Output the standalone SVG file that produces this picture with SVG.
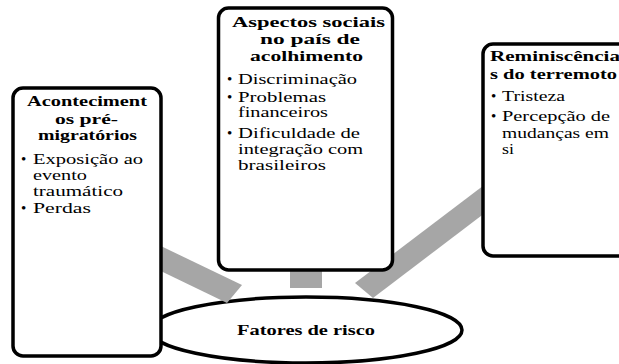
<svg xmlns="http://www.w3.org/2000/svg" width="619" height="364" viewBox="0 0 619 364">
<style>
.box{fill:#fff;stroke:#000;stroke-width:3.5}
.bar{fill:#a6a6a6;stroke:none}
.t{font-weight:bold}
.c{text-anchor:middle}
</style>
<rect width="619" height="364" fill="#fff"/>
<g id="risk-factors" font-family="Liberation Serif, serif" font-size="15">
<ellipse class="box" cx="306" cy="330" rx="156" ry="33"/>
<text class="t c" x="306" y="335" textLength="138" lengthAdjust="spacingAndGlyphs">Fatores de risco</text>
</g>
<g id="connectors">
<polygon class="bar" points="140,236 242,285 227,303 140,261"/>
<rect class="bar" x="290" y="260" width="32" height="28"/>
<polygon class="bar" points="355,283 500,173 500,201.5 373,298"/>
</g>
<g id="node-pre-migration" font-family="Liberation Serif, serif" font-size="15">
<rect class="box" x="13" y="88" width="148" height="268" rx="10"/>
<text class="t" x="27" y="106" textLength="120" lengthAdjust="spacingAndGlyphs">Aconteciment</text>
<text class="t" x="55" y="124" textLength="63" lengthAdjust="spacingAndGlyphs">os pré-</text>
<text class="t" x="38" y="140" textLength="99" lengthAdjust="spacingAndGlyphs">migratórios</text>
<text x="21" y="164">•</text>
<text x="33" y="164" textLength="110" lengthAdjust="spacingAndGlyphs">Exposição ao</text>
<text x="33" y="180" textLength="54" lengthAdjust="spacingAndGlyphs">evento</text>
<text x="33" y="196" textLength="90" lengthAdjust="spacingAndGlyphs">traumático</text>
<text x="21" y="213">•</text>
<text x="33" y="213" textLength="58" lengthAdjust="spacingAndGlyphs">Perdas</text>
</g>
<g id="node-social" font-family="Liberation Serif, serif" font-size="15">
<rect class="box" x="218.5" y="8" width="174" height="262" rx="10"/>
<text class="t" x="232" y="27" textLength="153" lengthAdjust="spacingAndGlyphs">Aspectos sociais</text>
<text class="t" x="260" y="44" textLength="100" lengthAdjust="spacingAndGlyphs">no país de</text>
<text class="t" x="250" y="61" textLength="113" lengthAdjust="spacingAndGlyphs">acolhimento</text>
<text x="227" y="84">•</text>
<text x="238" y="84" textLength="119" lengthAdjust="spacingAndGlyphs">Discriminação</text>
<text x="227" y="102">•</text>
<text x="238" y="102" textLength="88" lengthAdjust="spacingAndGlyphs">Problemas</text>
<text x="238" y="117" textLength="90" lengthAdjust="spacingAndGlyphs">financeiros</text>
<text x="227" y="138">•</text>
<text x="238" y="138" textLength="122" lengthAdjust="spacingAndGlyphs">Dificuldade de</text>
<text x="238" y="154" textLength="125" lengthAdjust="spacingAndGlyphs">integração com</text>
<text x="238" y="170" textLength="88" lengthAdjust="spacingAndGlyphs">brasileiros</text>
</g>
<g id="node-earthquake" font-family="Liberation Serif, serif" font-size="15">
<rect class="box" x="483" y="44" width="150" height="212" rx="10"/>
<text class="t" x="490" y="61" textLength="130" lengthAdjust="spacingAndGlyphs">Reminiscência</text>
<text class="t" x="490" y="79" textLength="127" lengthAdjust="spacingAndGlyphs">s do terremoto</text>
<text x="491" y="101">•</text>
<text x="502" y="101" textLength="63" lengthAdjust="spacingAndGlyphs">Tristeza</text>
<text x="491" y="121">•</text>
<text x="502" y="121" textLength="108" lengthAdjust="spacingAndGlyphs">Percepção de</text>
<text x="502" y="138" textLength="107" lengthAdjust="spacingAndGlyphs">mudanças em</text>
<text x="502" y="154" textLength="12" lengthAdjust="spacingAndGlyphs">si</text>
</g>
</svg>
